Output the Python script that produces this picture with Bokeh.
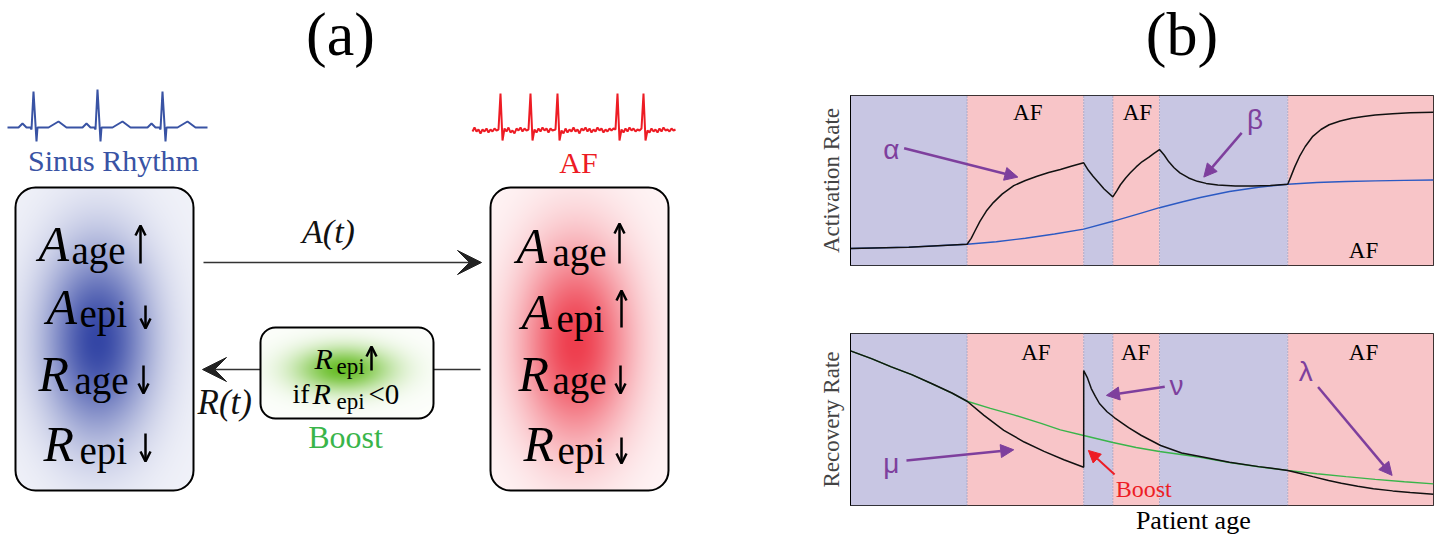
import numpy as np
from bokeh.plotting import figure
from bokeh.layouts import row, column
from bokeh.models import (Range1d, Arrow, NormalHead, OpenHead, VeeHead,
                          FixedTicker, ColumnDataSource)
from bokeh.embed import file_html
from bokeh.resources import INLINE
from bokeh.core.properties import value

SERIF = "Liberation Serif"
SANS = "Liberation Sans"
PURPLE = "#7e3f9d"
RED = "#ed1c24"
GREEN = "#39b54a"
BLUE_ECG = "#3953a4"
SR_FILL = "#c8c6e3"
AF_FILL = "#f8c5c8"

# ---------------- data: panel (b) ----------------
age_bounds = [0, 20, 40, 45, 53, 75, 100]
rhythm_states = ["SR", "AF", "SR", "AF", "SR", "AF"]

act_base_x = [0, 10, 20, 25, 30, 35, 40, 45, 50, 53, 57, 60, 65, 70, 75, 80, 85, 90, 95, 100]
act_base_y = [0.100, 0.108, 0.125, 0.14, 0.16, 0.185, 0.214, 0.26, 0.31, 0.34, 0.375, 0.40,
              0.435, 0.46, 0.478, 0.488, 0.494, 0.498, 0.501, 0.503]

act_x = [0, 10, 20, 20.7, 21.3, 22.2, 23.3, 24.5, 26, 28, 30, 32, 34, 36, 38, 40,
         40.8, 41.6, 42.5, 43.5, 45, 45.7, 46.3, 47.2, 48, 49, 50, 51.2, 52, 53,
         53.8, 54.6, 55.5, 56.5, 58, 59.5, 61, 63, 66, 69, 72, 75,
         75.5, 76.2, 77, 78, 79.3, 80.7, 82.1, 84, 86, 88, 90, 93, 96, 100]
act_y = [0.100, 0.108, 0.125, 0.16, 0.2, 0.26, 0.32, 0.37, 0.42, 0.47, 0.50, 0.525, 0.547, 0.565, 0.585, 0.604,
         0.56, 0.525, 0.49, 0.45, 0.404, 0.44, 0.475, 0.515, 0.545, 0.58, 0.61, 0.637, 0.658, 0.682,
         0.65, 0.61, 0.575, 0.545, 0.515, 0.495, 0.483, 0.473, 0.467, 0.467, 0.47, 0.478,
         0.52, 0.58, 0.64, 0.70, 0.76, 0.80, 0.828, 0.85, 0.866, 0.877, 0.885, 0.893, 0.898, 0.902]

rec_base_x = [0, 3.6, 7, 10.5, 13.9, 17.4, 20, 24, 28, 32.7, 36, 40, 45, 49, 53, 57, 60, 65, 70, 75,
              80, 85, 90, 95, 100]
rec_base_y = [0.899, 0.854, 0.806, 0.761, 0.709, 0.654, 0.606, 0.565, 0.527, 0.477, 0.44, 0.407, 0.366,
              0.337, 0.314, 0.295, 0.28, 0.25, 0.225, 0.204, 0.185, 0.168, 0.152, 0.138, 0.126]

rec_x = [0, 3.6, 7, 10.5, 13.9, 17.4, 20, 22.9, 26.3, 29.8, 33.2, 36.6, 40,
         40, 40.6, 41.3, 42, 42.7, 44, 45.3, 47.7, 49.9, 53.2, 56.8, 60.2, 65, 70, 75,
         77, 79.3, 82, 84.2, 87, 89.7, 93, 96, 100]
rec_y = [0.899, 0.854, 0.806, 0.761, 0.709, 0.654, 0.606, 0.524, 0.437, 0.369, 0.315, 0.266, 0.222,
         0.785, 0.745, 0.68, 0.635, 0.593, 0.545, 0.51, 0.453, 0.407, 0.349, 0.305, 0.283, 0.252, 0.226, 0.204,
         0.188, 0.168, 0.145, 0.13, 0.112, 0.098, 0.085, 0.075, 0.066]

# ---------------- data: panel (a) ECG traces ----------------
sinus_ecg_x = [7, 18, 22, 26, 30, 31, 33, 36, 37, 48, 58, 66, 82, 86, 90, 94, 95, 97, 100, 101,
               112, 122, 130, 147, 151, 155, 159, 160, 162, 165, 166, 177, 187, 195, 207]
sinus_ecg_y = [127, 127, 123, 127, 127, 129, 91, 141, 127, 127, 121, 127, 127, 123, 127, 127, 129, 89, 141, 127,
               127, 121, 127, 127, 123, 127, 127, 129, 91, 141, 127, 127, 121, 127, 127]

af_ecg_x = [472, 474, 476, 478, 480, 482, 484, 486, 488, 490, 492, 494, 496, 498, 500, 502, 504, 506, 508,
            510, 512, 514, 516, 518, 520, 522, 524, 526, 528, 530, 532, 534, 536, 538, 540, 542, 544, 546,
            548, 550, 552, 555, 557, 559, 561, 563, 565, 567, 569, 571, 573, 575, 577, 579, 581, 583, 585,
            587, 589, 591, 593, 595, 597, 599, 601, 603, 605, 607, 609, 611, 613, 615, 617, 619, 621, 623,
            625, 627, 629, 631, 633, 635, 637, 639, 641, 643, 645, 647, 649, 651, 653, 655, 657, 659, 661,
            663, 665, 667, 669, 671, 673, 675]
af_ecg_y = [131, 127, 131, 129, 133, 129, 131, 128, 132, 129, 131, 128, 130, 129, 93, 140, 128, 131, 127,
            132, 130, 133, 128, 130, 127, 131, 128, 130, 129, 93, 140, 129, 132, 128, 131, 127, 130, 128,
            132, 128, 130, 129, 93, 140, 130, 133, 128, 132, 129, 131, 127, 131, 129, 133, 128, 130, 127,
            131, 128, 132, 129, 131, 127, 130, 128, 132, 129, 131, 128, 130, 128, 129, 93, 140, 129, 132,
            128, 131, 127, 130, 128, 131, 129, 130, 128, 93, 140, 130, 132, 128, 131, 129, 132, 128, 131,
            127, 130, 129, 131, 128, 130, 129]

# state-variable labels in the two boxes
box_letters = ["A", "A", "R", "R"]
box_subs = ["age", "epi", "age", "epi"]

BL = 0.34  # renderer's baseline offset (fraction of font size)


def ya(y, size):
    """baseline position -> anchor for pixel-space panels (y grows downward)"""
    return y - BL * size


def yb(y, size, fh):
    """baseline position -> anchor for panel (b) (data units, frame height fh px)"""
    return y + BL * size / fh


def gradient_rgba(w, h, cx, cy, sx, sy, rgb, base, radius):
    yy, xx = np.mgrid[0:h, 0:w]
    yy = yy + 0.5
    xx = xx + 0.5
    g = np.exp(-((xx - cx) / sx) ** 2 - ((yy - cy) / sy) ** 2)
    wt = base + (1 - base) * g
    out = np.empty((h, w), dtype=np.uint32)
    v = out.view(dtype=np.uint8).reshape((h, w, 4))
    for k in range(3):
        v[..., k] = np.round(255 * (1 - wt) + rgb[k] * wt).astype(np.uint8)
    dx = np.maximum(np.maximum(radius - xx, xx - (w - radius)), 0)
    dy = np.maximum(np.maximum(radius - yy, yy - (h - radius)), 0)
    d = np.sqrt(dx ** 2 + dy ** 2)
    a = np.clip(radius - d + 0.5, 0, 1)
    v[..., 3] = (a * 255).astype(np.uint8)
    return out


def txt(p, x, y, t, size, color="black", italic=False, align="left", font=SERIF):
    p.text(x=x, y=y, text=t, text_font=value(font), text_font_size=f"{size}px",
           text_font_style="italic" if italic else "normal",
           text_align=align, text_baseline="alphabetic", text_color=color)


def blank(width, height, x0, x1, ytop, ybot):
    p = figure(width=width, height=height, x_range=Range1d(x0, x1), y_range=Range1d(ybot, ytop),
               output_backend="svg", toolbar_location=None, min_border=0)
    p.axis.visible = False
    p.grid.visible = False
    p.outline_line_color = None
    return p


# ================= panel (a) =================
pa = blank(720, 534, 0, 720, 0, 534)

txt(pa, [340], [ya(55, 62)], ["(a)"], 62, align="center")

# ECG traces
pa.line(sinus_ecg_x, sinus_ecg_y, line_color=BLUE_ECG, line_width=2)
pa.line(af_ecg_x, af_ecg_y, line_color=RED, line_width=2)
txt(pa, [113], [ya(170, 30)], ["Sinus Rhythm"], 30, color=BLUE_ECG, align="center")
txt(pa, [578], [ya(172, 30)], ["AF"], 30, color=RED, align="center")

# transition arrows (under the boxes)
pa.add_layout(Arrow(end=VeeHead(size=24, fill_color="#222222", line_color="#222222"),
                    x_start=203, y_start=262, x_end=481, y_end=262,
                    line_color="#333333", line_width=1.3, level="underlay"))
pa.add_layout(Arrow(end=VeeHead(size=24, fill_color="#222222", line_color="#222222"),
                    x_start=480, y_start=369, x_end=202, y_end=369,
                    line_color="#333333", line_width=1.3, level="underlay"))

# gradients
img_sr = gradient_rgba(178, 303, 82, 153, 54, 95, (52, 70, 165), 0.07, 20)
img_af = gradient_rgba(178, 303, 85, 156, 56, 100, (238, 62, 78), 0.05, 20)
img_bo = gradient_rgba(173, 91, 83, 42, 48, 22, (105, 190, 40), 0.02, 15)
pa.image_rgba(image=[img_sr], x=15, y=187, dw=178, dh=303)
pa.image_rgba(image=[img_af], x=490, y=187, dw=178, dh=303)
pa.image_rgba(image=[img_bo], x=260, y=327, dw=173, dh=91)

pa.quad(left=[15, 490], right=[193, 668], top=[187, 187], bottom=[490, 490],
        border_radius=20, fill_color=None, line_color="black", line_width=2)
pa.quad(left=[260], right=[433], top=[327], bottom=[418],
        border_radius=15, fill_color=None, line_color="black", line_width=2)

# box labels
MAIN, SUB = 50, 39
sr_main_x = [38, 46, 38, 43]
sr_sub_x = [71, 79, 74, 79]
af_main_x = [516, 521, 518, 523]
af_sub_x = [552, 556, 552, 557]
sr_base = [260, 323, 390, 460]
af_base = [262, 328, 390, 460]
txt(pa, sr_main_x + af_main_x, [ya(b, MAIN) for b in sr_base + af_base], box_letters + box_letters,
    MAIN, italic=True)
txt(pa, sr_sub_x + af_sub_x, [ya(b + 3, SUB) for b in sr_base + af_base], box_subs + box_subs, SUB)

sr_arrow_x = [140, 145, 143, 145]
af_arrow_x = [619, 621, 620, 621]
sr_span = [(263, 225), (305, 328), (365, 393), (433, 461)]
af_span = [(263, 223), (327, 290), (365, 393), (437, 463)]
x0, y0, x1, y1 = [], [], [], []
for xs, spans in ((sr_arrow_x, sr_span), (af_arrow_x, af_span)):
    for xx, (a, b) in zip(xs, spans):
        x0.append(xx); x1.append(xx); y0.append(a); y1.append(b)
# boost box arrow
x0.append(371); x1.append(371); y0.append(370); y1.append(346)
arr_src = ColumnDataSource(dict(x0=x0, y0=y0, x1=x1, y1=y1))
pa.add_layout(Arrow(end=OpenHead(size=10, line_width=2.5, line_color="black"),
                    x_start="x0", y_start="y0", x_end="x1", y_end="y1", source=arr_src,
                    line_color="black", line_width=2.5))

# middle labels
txt(pa, [328], [ya(243, 34)], ["A(t)"], 34, color="#111111", italic=True, align="center")
txt(pa, [197], [ya(414, 35)], ["R(t)"], 35, color="#111111", italic=True)

txt(pa, [314, 312], [ya(368, 30), ya(403, 30)], ["R", "R"], 30, italic=True)
txt(pa, [336, 336], [ya(374, 23), ya(409, 23)], ["epi", "epi"], 23)
txt(pa, [292], [ya(403, 28)], ["if"], 28)
txt(pa, [368], [ya(403, 29)], ["<0"], 29)
txt(pa, [345], [ya(447, 32)], ["Boost"], 32, color=GREEN, align="center")


# ================= panel (b) =================
def rate_panel(height, top, bottom, ylabel):
    p = figure(width=716, height=height, x_range=Range1d(0, 100), y_range=Range1d(0, 1),
               output_backend="svg", toolbar_location=None,
               min_border_left=130, min_border_right=3, min_border_top=top, min_border_bottom=bottom)
    p.grid.visible = False
    p.xaxis.visible = False
    p.yaxis.ticker = FixedTicker(ticks=[])
    p.yaxis.major_tick_line_color = None
    p.yaxis.minor_tick_line_color = None
    p.yaxis.major_label_text_font_size = "0px"
    p.yaxis.axis_line_color = "black"
    p.yaxis.axis_label = ylabel
    p.yaxis.axis_label_text_font = SERIF
    p.yaxis.axis_label_text_font_style = "normal"
    p.yaxis.axis_label_text_font_size = "23px"
    p.yaxis.axis_label_standoff = 7
    p.outline_line_color = "black"
    p.outline_line_width = 1
    fills = [AF_FILL if s == "AF" else SR_FILL for s in rhythm_states]
    p.quad(left=age_bounds[:-1], right=age_bounds[1:], bottom=0, top=1, fill_color=fills, line_color=None)
    p.segment(x0=age_bounds[1:-1], y0=0, x1=age_bounds[1:-1], y1=1, line_color="#7f86b0",
              line_width=1, line_dash="1 2")
    return p


# title strip for (b)
pt = blank(716, 85, 720, 1436, 0, 85)
txt(pt, [1127], [ya(55, 62)], ["(b)"], 62, align="center")

FH1, FH2 = 170, 172
pb1 = rate_panel(215, 10, 35, "Activation Rate")
pb1.line(act_base_x, act_base_y, line_color="#2b59c3", line_width=1.4)
pb1.line(act_x, act_y, line_color="#111111", line_width=1.5)
txt(pb1, [30.4, 49.2, 88], [yb(0.855, 23, FH1), yb(0.855, 23, FH1), yb(0.045, 23, FH1)],
    ["AF", "AF", "AF"], 23, align="center")
pb1.text(x=[7.0, 69.4], y=[0.68, 0.86], text=["α", "β"], text_font=value(SANS), text_font_size="28px",
         text_align="center", text_baseline="middle", text_color=PURPLE)
src1 = ColumnDataSource(dict(x0=[9.2, 67.1], y0=[0.69, 0.78], x1=[28.7, 60.6], y1=[0.52, 0.52]))
pb1.add_layout(Arrow(end=NormalHead(size=13, fill_color=PURPLE, line_color=PURPLE),
                     x_start="x0", y_start="y0", x_end="x1", y_end="y1", source=src1,
                     line_color=PURPLE, line_width=2.5))

pb2 = rate_panel(206, 33, 1, "Recovery Rate")
pb2.line(rec_base_x, rec_base_y, line_color=GREEN, line_width=1.4)
pb2.line(rec_x, rec_y, line_color="#111111", line_width=1.5)
txt(pb2, [31.8, 48.9, 88], [yb(0.843, 23, FH2)] * 3, ["AF", "AF", "AF"], 23, align="center")
pb2.text(x=[55.9, 7.0, 78.1], y=[0.70, 0.243, 0.777], text=["ν", "μ", "λ"], text_font=value(SANS),
         text_font_size="28px", text_align="center", text_baseline="middle", text_color=PURPLE)
src2 = ColumnDataSource(dict(x0=[53.9, 9.6, 80.2], y0=[0.69, 0.262, 0.689],
                             x1=[43.9, 28.0, 92.9], y1=[0.64, 0.324, 0.175]))
pb2.add_layout(Arrow(end=NormalHead(size=13, fill_color=PURPLE, line_color=PURPLE),
                     x_start="x0", y_start="y0", x_end="x1", y_end="y1", source=src2,
                     line_color=PURPLE, line_width=2.5))
pb2.add_layout(Arrow(end=NormalHead(size=12, fill_color=RED, line_color=RED),
                     x_start=45.3, y_start=0.18, x_end=40.8, y_end=0.32, line_color=RED, line_width=2))
txt(pb2, [50.3], [yb(0.047, 24, FH2)], ["Boost"], 24, color=RED, align="center")

# x-axis caption strip
pbot = blank(716, 28, 720, 1436, 506, 534)
txt(pbot, [1141], [ya(529, 26)], ["Patient age"], 26, align="center")

root = row(pa, column(pt, pb1, pb2, pbot))
open("out.html", "w").write(file_html(root, INLINE))
